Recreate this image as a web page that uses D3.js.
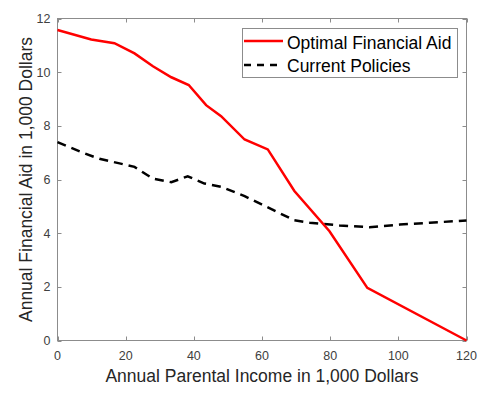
<!DOCTYPE html>
<html><head><meta charset="utf-8">
<script src="https://cdn.jsdelivr.net/npm/d3@7"></script>
<style>body{margin:0;background:#fff}svg{display:block}</style>
</head><body><svg id="c" width="490" height="393"></svg>
<script>
const optX = [0, 9.9, 16.7, 22.6, 28.0, 33.4, 38.5, 43.6, 48.0, 54.9, 61.7, 69.5, 79.8, 90.9, 120];
const optY = [11.57, 11.22, 11.08, 10.70, 10.22, 9.81, 9.52, 8.77, 8.36, 7.49, 7.12, 5.57, 4.07, 1.96, 0];
const curX = [0, 7.4, 12.3, 18.2, 22.6, 28.0, 33.4, 38.2, 43.1, 48.0, 54.9, 59.9, 69.5, 74.0, 82.7, 91.5, 100.4, 109.2, 120];
const curY = [7.39, 7.0, 6.77, 6.60, 6.47, 6.03, 5.90, 6.12, 5.85, 5.73, 5.38, 5.07, 4.48, 4.39, 4.29, 4.22, 4.32, 4.39, 4.47];
const xTicks = [0, 20, 40, 60, 80, 100, 120];
const yTicks = [0, 2, 4, 6, 8, 10, 12];
const seriesNames = ["Optimal Financial Aid", "Current Policies"];
const xLabel = "Annual Parental Income in 1,000 Dollars";
const yLabel = "Annual Financial Aid in 1,000 Dollars";

const svg = d3.select("#c");
const L = 57.5, R = 466.5, T = 18.5, B = 340.5;
const x = d3.scaleLinear().domain([0,120]).range([L,R]);
const y = d3.scaleLinear().domain([0,12]).range([B,T]);
const font = "Arial, 'Liberation Sans', sans-serif";
const axisCol = "#8c8c8c", textCol = "#404040";

svg.append("rect").attr("x",L).attr("y",T).attr("width",R-L).attr("height",B-T)
  .attr("fill","none").attr("stroke",axisCol).attr("stroke-width",1);

const tl = 4;
xTicks.forEach(t=>{
  const px = Math.round(x(t))+0.5;
  svg.append("line").attr("x1",px).attr("x2",px).attr("y1",B).attr("y2",B-tl).attr("stroke",axisCol);
  svg.append("line").attr("x1",px).attr("x2",px).attr("y1",T).attr("y2",T+tl).attr("stroke",axisCol);
  svg.append("text").attr("x",x(t)).attr("y",B+19).attr("text-anchor","middle")
    .attr("font-family",font).attr("font-size",12.5).attr("fill",textCol).text(t);
});
yTicks.forEach(t=>{
  const py = Math.round(y(t))+0.5;
  svg.append("line").attr("x1",L).attr("x2",L+tl).attr("y1",py).attr("y2",py).attr("stroke",axisCol);
  svg.append("line").attr("x1",R).attr("x2",R-tl).attr("y1",py).attr("y2",py).attr("stroke",axisCol);
  svg.append("text").attr("x",L-7).attr("y",y(t)+4.5).attr("text-anchor","end")
    .attr("font-family",font).attr("font-size",12.5).attr("fill",textCol).text(t);
});

svg.append("text").attr("x",(L+R)/2).attr("y",382).attr("text-anchor","middle")
  .attr("font-family",font).attr("font-size",17.5).attr("fill","#262626").text(xLabel);
svg.append("text").attr("transform",`translate(32,${(T+B)/2}) rotate(-90)`).attr("text-anchor","middle")
  .attr("font-family",font).attr("font-size",17.5).attr("fill","#262626").text(yLabel);

const line = d3.line().x(d=>x(d[0])).y(d=>y(d[1]));
svg.append("path").datum(curX.map((v,i)=>[v,curY[i]])).attr("d",line)
  .attr("fill","none").attr("stroke","#000").attr("stroke-width",2.5).attr("stroke-dasharray","9,6");
svg.append("path").datum(optX.map((v,i)=>[v,optY[i]])).attr("d",line)
  .attr("fill","none").attr("stroke","#ff0000").attr("stroke-width",2.5);

const lg = svg.append("g");
lg.append("rect").attr("x",242.5).attr("y",28.5).attr("width",215).attr("height",49)
  .attr("fill","#fff").attr("stroke",axisCol);
lg.append("line").attr("x1",244).attr("x2",283).attr("y1",41).attr("y2",41).attr("stroke","#ff0000").attr("stroke-width",2.5);
lg.append("line").attr("x1",244).attr("x2",283).attr("y1",65).attr("y2",65).attr("stroke","#000").attr("stroke-width",2.5).attr("stroke-dasharray","7,6");
[0,1].forEach(i=>{
  lg.append("text").attr("x",287).attr("y",48.5+i*23.5).attr("font-family",font).attr("font-size",17.5)
    .attr("fill","#000").text(seriesNames[i]);
});
</script></body></html>
